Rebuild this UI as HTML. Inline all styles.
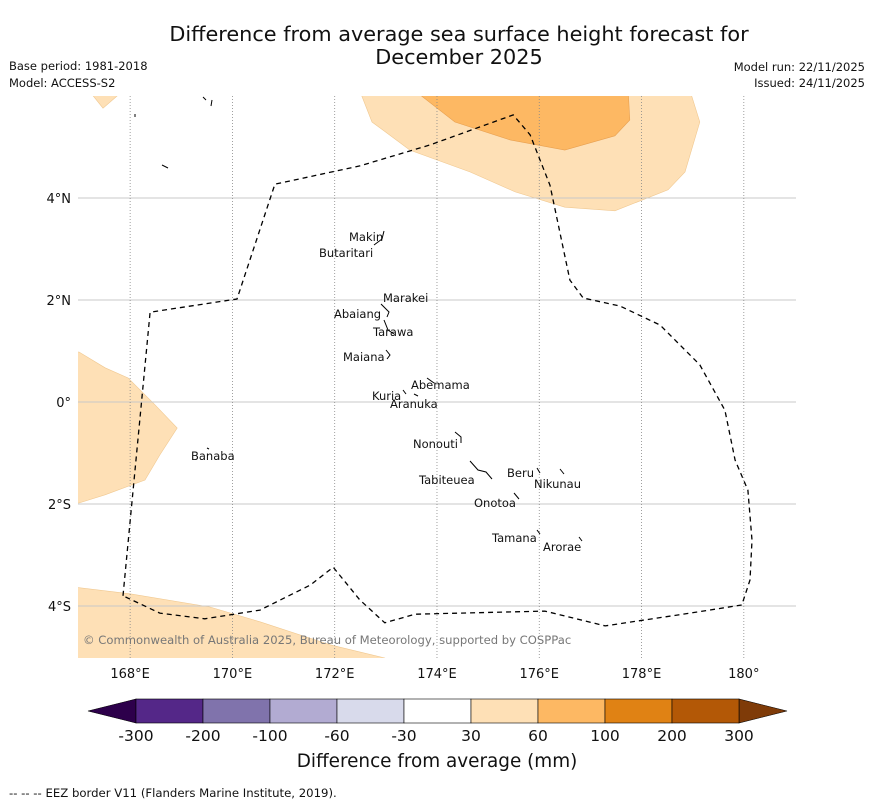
<!DOCTYPE html>
<html><head><meta charset="utf-8"><style>
html,body{margin:0;padding:0;background:#fff;}
svg{display:block;font-family:"DejaVu Sans","Liberation Sans",sans-serif;}
</style></head><body>
<svg id="chart" width="873" height="804" viewBox="0 0 873 804" xmlns="http://www.w3.org/2000/svg">
<text x="459" y="41" font-size="20.8" text-anchor="middle" fill="#111">Difference from average sea surface height forecast for</text>
<text x="459" y="64" font-size="20.8" text-anchor="middle" fill="#111">December 2025</text>
<text x="9" y="70" font-size="11.5" fill="#111">Base period: 1981-2018</text>
<text x="9" y="87" font-size="11.5" fill="#111">Model: ACCESS-S2</text>
<text x="865" y="71" font-size="11.5" text-anchor="end" fill="#111">Model run: 22/11/2025</text>
<text x="865" y="87" font-size="11.5" text-anchor="end" fill="#111">Issued: 24/11/2025</text>
<defs><clipPath id="mapclip"><rect x="78" y="96" width="718" height="562"/></clipPath></defs>
<g id="map" clip-path="url(#mapclip)"></g>
<g id="axes"></g>
<g id="labels" font-size="11.5" fill="#111">
<text x="349" y="241">Makin</text><text x="319" y="257">Butaritari</text>
<text x="383" y="302">Marakei</text><text x="334" y="318">Abaiang</text>
<text x="373" y="336">Tarawa</text><text x="343" y="361">Maiana</text>
<text x="411" y="389">Abemama</text><text x="372" y="400">Kuria</text>
<text x="390" y="408">Aranuka</text><text x="191" y="460">Banaba</text>
<text x="413" y="448">Nonouti</text><text x="507" y="477">Beru</text>
<text x="534" y="488">Nikunau</text><text x="419" y="484">Tabiteuea</text>
<text x="474" y="507">Onotoa</text><text x="492" y="542">Tamana</text>
<text x="543" y="551">Arorae</text>
</g>
<g fill="none" stroke="#000" stroke-width="1">
<path d="M384 231 l-2 8 l-8 6"/><path d="M381 304 l8 8 l-2 5"/><path d="M384 320 l4 10 l6 4"/>
<path d="M386 350 l4 5 l-3 4"/><path d="M427 378 l7 5"/><path d="M403 390 l3 4"/><path d="M414 394 l4 2"/>
<path d="M455 432 l6 5 l0 6"/><path d="M470 461 l8 9 l8 2 l6 7"/><path d="M537 468 l3 5"/><path d="M560 469 l4 5"/>
<path d="M514 493 l5 6"/><path d="M537 530 l3 4"/><path d="M579 537 l3 4"/><path d="M207 448 l2 1"/>
<path d="M135 114 l0 3"/><path d="M162 165 l6 3"/><path d="M203 97 l3 3"/><path d="M212 100 l-1 6"/>
</g>
<text x="83" y="644" font-size="11.6" fill="#777">© Commonwealth of Australia 2025, Bureau of Meteorology, supported by COSPPac</text>
<g id="cbar"></g>
<text x="437" y="767" font-size="18.4" text-anchor="middle" fill="#111">Difference from average (mm)</text>
<text x="9" y="797" font-size="11.7" fill="#111">--  --  -- EEZ border V11 (Flanders Marine Institute, 2019).</text>
</svg>
<script>
const lonTicks=[168,170,172,174,176,178,180];
const latTicks=[4,2,0,-2,-4];
const latLabels=["4°N","2°N","0°","2°S","4°S"];
const lonLabels=["168°E","170°E","172°E","174°E","176°E","178°E","180°"];
const eezLon=[167.86,168.39,170.09,170.83,172.49,173.86,175.49,175.82,176.21,176.6,176.86,177.58,178.36,179.14,179.63,179.83,180.08,180.16,180.12,179.96,178.95,177.29,176.11,173.57,172.98,172.49,171.97,171.52,170.54,169.46,168.58,167.86];
const eezLat=[-3.8,1.76,2.02,4.27,4.63,5.04,5.63,5.24,4.25,2.39,2.04,1.88,1.51,0.73,-0.16,-1.14,-1.73,-2.71,-3.49,-3.98,-4.14,-4.39,-4.1,-4.16,-4.33,-3.88,-3.24,-3.59,-4.08,-4.25,-4.14,-3.8];
const anomLightTopLon=[172.49,172.73,173.47,174.65,175.53,176.5,177.48,178.52,178.85,179.14,178.95];
const anomLightTopLat=[6.1,5.49,4.94,4.51,4.12,3.82,3.75,4.16,4.51,5.49,6.1];
const anomDarkTopLon=[173.57,174.35,175.43,176.5,177.48,177.77,177.74];
const anomDarkTopLat=[6.1,5.49,5.14,4.94,5.22,5.53,6.1];
const anomLeftLon=[166.9,167,167.51,167.96,168.49,168.92,168.58,168.29,167.51,167,166.9];
const anomLeftLat=[0.98,0.98,0.67,0.47,-0.06,-0.51,-1.04,-1.53,-1.82,-1.98,-1.98];
const anomBottomLon=[166.9,168,169.56,170.54,171.91,172.98,173.1,166.9];
const anomBottomLat=[-3.63,-3.76,-4.02,-4.31,-4.76,-5.02,-5.1,-5.1];
const anomTLLon=[167.2,167.47,167.86];
const anomTLLat=[6.1,5.76,6.1];
const cbBounds=[-300,-200,-100,-60,-30,30,60,100,200,300];
const cbColors=["#542788","#8073ac","#b2abd2","#d8daeb","#ffffff","#fee0b6","#fdb863","#e08214","#b35806"];
const cbUnder="#2d004b", cbOver="#7f3b08";

const NS="http://www.w3.org/2000/svg";
const X=lon=>79+(lon-167)*51.14;
const Y=lat=>96+(6-lat)*51;
function mk(tag,attrs,parent){const e=document.createElementNS(NS,tag);for(const k in attrs)e.setAttribute(k,attrs[k]);parent.appendChild(e);return e;}
const map=document.getElementById('map'),axes=document.getElementById('axes'),cbar=document.getElementById('cbar');
function poly(lons,lats,fill,stroke,name){
  const pts=lons.map((l,i)=>X(l).toFixed(1)+","+Y(lats[i]).toFixed(1)).join(" ");
  const p=mk('polygon',{points:pts,fill:fill,stroke:stroke,'stroke-width':0.6},map);
  
  
}
poly(anomLightTopLon,anomLightTopLat,"#fee0b6","#f0c890","anomaly-30-60-north");
poly(anomDarkTopLon,anomDarkTopLat,"#fdb863","#e8a050","anomaly-60-100-north");
poly(anomLeftLon,anomLeftLat,"#fee0b6","#f0c890","anomaly-30-60-west");
poly(anomBottomLon,anomBottomLat,"#fee0b6","#f0c890","anomaly-30-60-south");
poly(anomTLLon,anomTLLat,"#fee0b6","#f0c890","anomaly-30-60-northwest");
latTicks.forEach((t,i)=>{
  const l=mk('line',{x1:78,x2:796,y1:Y(t),y2:Y(t),stroke:"#c8c8c8",'stroke-width':1},map);
  
  
  const tx=mk('text',{x:71,y:Y(t)+5,'font-size':13,'text-anchor':'end',fill:'#111'},axes);tx.textContent=latLabels[i];
  
  
});
lonTicks.forEach((t,i)=>{
  const l=mk('line',{x1:X(t),x2:X(t),y1:96,y2:658,stroke:"#888",'stroke-width':0.8,'stroke-dasharray':'1,2'},map);
  
  
  const tx=mk('text',{x:X(t),y:678,'font-size':13,'text-anchor':'middle',fill:'#111'},axes);tx.textContent=lonLabels[i];
  
  
});
const eez=mk('polyline',{points:eezLon.map((l,i)=>X(l).toFixed(1)+","+Y(eezLat[i]).toFixed(1)).join(" "),fill:'none',stroke:'#000','stroke-width':1.3,'stroke-dasharray':'5,4'},map);


const cbx0=136,cbx1=739,cby=699,cbh=24,n=cbColors.length,w=(cbx1-cbx0)/n;
const cbX=i=>cbx0+i*w;
const lt=mk('polygon',{points:`${cbx0},${cby} ${cbx0},${cby+cbh} 88,${cby+cbh/2}`,fill:cbUnder,stroke:'#000','stroke-width':0.6},cbar);


const rt=mk('polygon',{points:`${cbx1},${cby} ${cbx1},${cby+cbh} 787,${cby+cbh/2}`,fill:cbOver,stroke:'#000','stroke-width':0.6},cbar);


cbColors.forEach((c,i)=>{
  const r=mk('rect',{x:cbX(i),y:cby,width:w,height:cbh,fill:c,stroke:'#000','stroke-width':0.6},cbar);
  
  
});
cbBounds.forEach((b,i)=>{
  const tx=mk('text',{x:cbX(i),y:741,'font-size':15.5,'text-anchor':'middle',fill:'#111'},cbar);tx.textContent=b;
  
  
});
</script>
</body></html>
